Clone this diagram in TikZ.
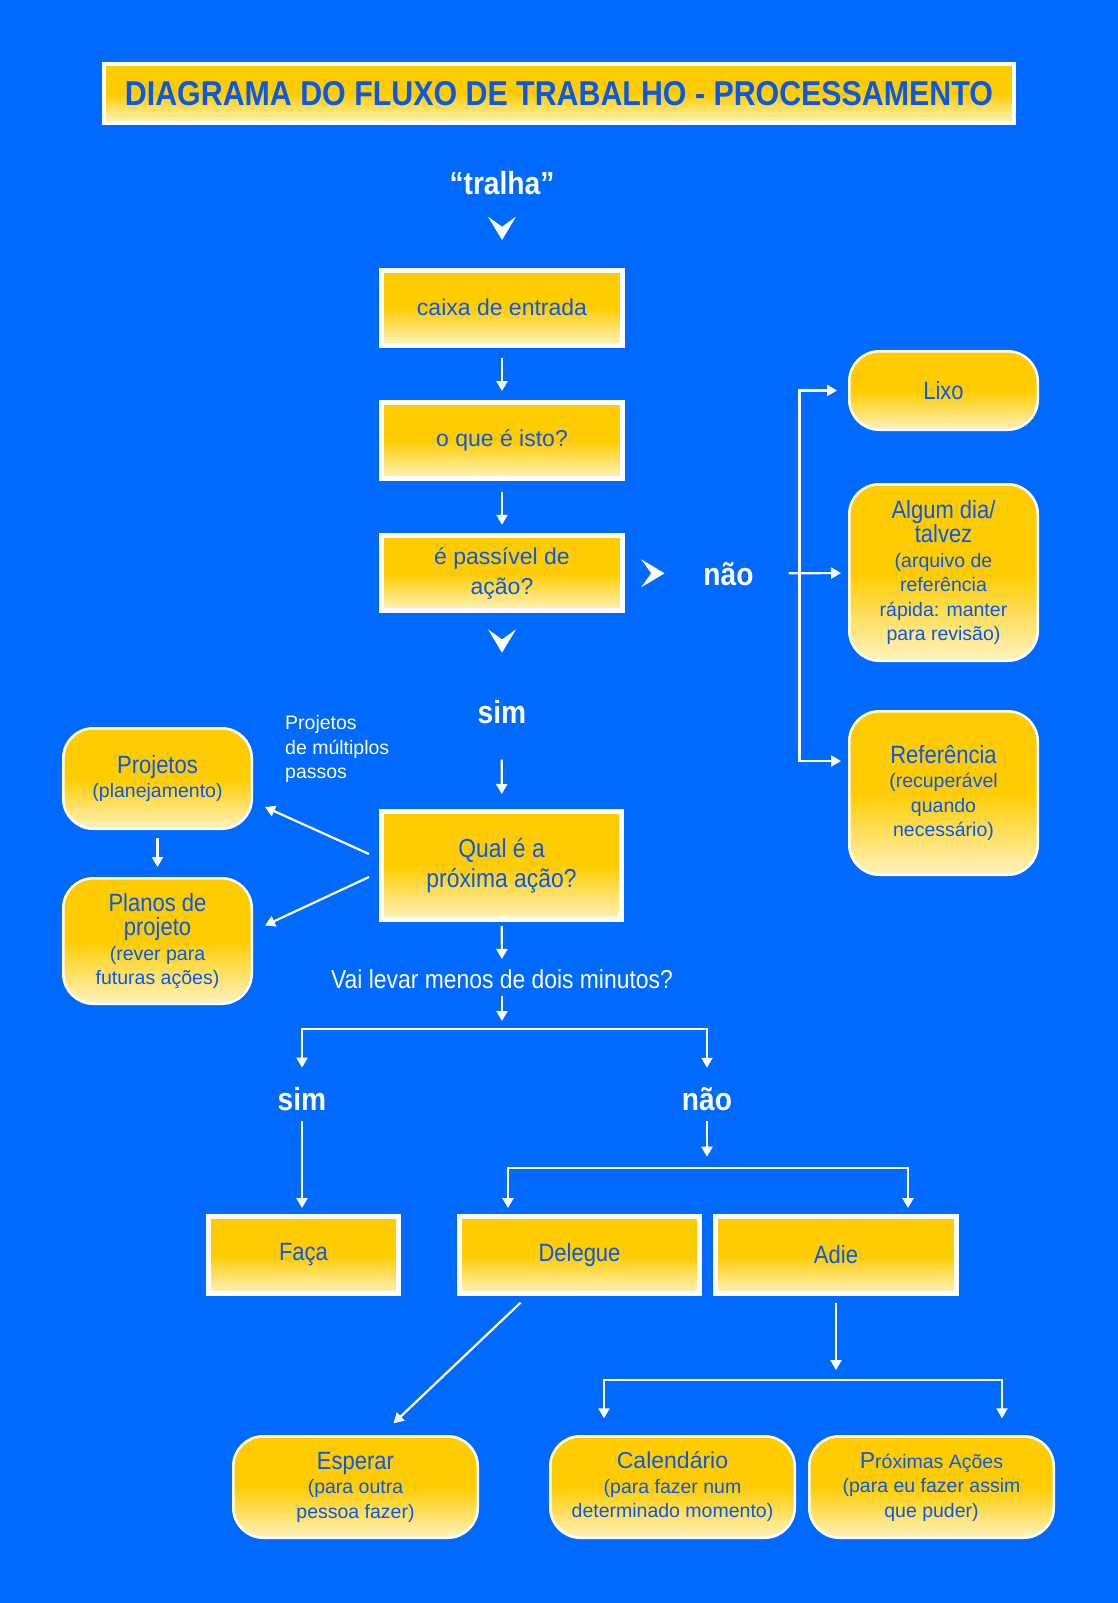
\documentclass[tikz,border=0pt]{standalone}
\usepackage{fontspec}
\usepackage{xcolor}
\usepackage{tikz}
\usetikzlibrary{arrows.meta}
\setmainfont{Liberation Sans}
\newfontfamily\condfont[FakeStretch=0.88]{Liberation Sans}

\definecolor{bgblue}{RGB}{0,106,255}
\definecolor{gold}{RGB}{255,204,0}
\definecolor{pale}{RGB}{255,243,192}
\definecolor{inkblue}{RGB}{10,88,230}

\newcommand\lblfont{\fontsize{23}{30}\selectfont}
\newcommand\subfont{\fontsize{19.5}{24.5}\selectfont}
\newcommand\lbl[1]{{\condfont\fontsize{25}{24.5}\selectfont #1}}
\newcommand\lblreg[1]{{\fontsize{23}{24.5}\selectfont #1}}

\begin{document}
\begin{tikzpicture}[
  x=1pt, y=-1pt,
  rectbox/.style={draw=white, line width=5pt, top color=gold, bottom color=pale,
    middle color=gold, text=inkblue, align=center, inner sep=0pt, font=\lblfont},
  roundbox/.style={draw=white, line width=2.5pt, rounded corners=30pt, top color=gold,
    bottom color=pale, middle color=gold, text=inkblue, align=center, inner sep=0pt,
    font=\subfont, minimum width=188.5pt},
  bigword/.style={text=white, inner sep=0pt, font=\condfont\bfseries\fontsize{32}{32}\selectfont},
  plainword/.style={text=white, inner sep=0pt},
  arr/.style={draw=white, line width=2.2pt, -{Triangle[width=11pt,length=10pt]}},
  arrboth/.style={draw=white, line width=2.2pt,
    {Triangle[width=11pt,length=10pt]}-{Triangle[width=11pt,length=10pt]}},
  chevron/.pic={\fill[white] (0,11.7) -- (-14,-11.6) -- (0,-1.6) -- (14,-11.6) -- cycle;},
]
% Coordinate system: 1 unit = 1 pixel of the 1118 x 1603 sheet, y grows downwards.
\def\xmid{502}
\fill[bgblue] (0,0) rectangle (1118,1603);
\useasboundingbox (0,0) rectangle (1118,1603);

% Title
\node[rectbox, line width=4pt, minimum width=910pt, minimum height=59pt,
  font=\condfont\bfseries\fontsize{34.5}{36}\selectfont] (title) at (559,93.5)
  {DIAGRAMA DO FLUXO DE TRABALHO - PROCESSAMENTO};

% ─── Main column ──────────────────────────────────────────────────────────
\node[bigword, anchor=base] (tralha) at (\xmid,194) {“tralha”};
\pic at (\xmid,228.3) {chevron};
\node[rectbox, minimum width=241.5pt, minimum height=75pt] (caixa) at (\xmid,307.5) {caixa de entrada};
\node[rectbox, minimum width=241.5pt, minimum height=75.5pt] (oque) at (\xmid,440.3) {o que é isto?};
\node[rectbox, minimum width=241.5pt, minimum height=75.5pt] (acao) at (\xmid,573) {é passível de\\ação?};
\pic[rotate=90] at (652.8,573.3) {chevron};
\node[bigword, anchor=base] (naoA) at (728.5,585) {não};
\pic at (\xmid,641) {chevron};
\node[bigword, anchor=base] (simA) at (\xmid,723) {sim};
\node[rectbox, minimum width=240pt, minimum height=108pt,
  font=\condfont\fontsize{26}{30}\selectfont] (qual) at (501.5,865.5) {Qual é a\\próxima ação?};
\node[plainword, anchor=base, font=\condfont\fontsize{26}{30}\selectfont] (vai) at (\xmid,988)
  {Vai levar menos de dois minutos?};
\coordinate (split1) at (\xmid,1029);

\draw[arr, shorten <=10pt, shorten >=9pt] (caixa) -- (oque);
\draw[arr, shorten <=11pt, shorten >=8pt] (oque) -- (acao);
\draw[arr, shorten <=36pt, shorten >=15pt] (simA) -- (qual);
\draw[arr, shorten <=4pt, shorten >=10pt] (qual) -- (vai);
\draw[arr, shorten <=8pt, shorten >=8pt] (vai) -- (split1);

% ─── Right: not actionable ────────────────────────────────────────────────
\node[roundbox, minimum height=78.5pt] (lixo) at (943.5,390.5) {\lbl{Lixo}};
\node[roundbox, minimum height=176.5pt] (algum) at (943.5,572.5)
  {\lbl{Algum dia/}\\\lbl{talvez}\\(arquivo de\\referência\\rápida: manter\\para revisão)};
\node[roundbox, minimum height=163.5pt] (referencia) at (943.5,793)
  {\lbl{Referência}\\(recuperável\\quando\\necessário)};
\coordinate (rbot) at (799.5,761);

\draw[arrboth, shorten <=11pt, shorten >=7pt] (lixo.west) -| (rbot) -- (referencia.west |- rbot);
\draw[arr, shorten <=35pt, shorten >=7pt] (naoA) -- (algum);

% ─── Left: projects ───────────────────────────────────────────────────────
\node[roundbox, minimum height=100.5pt] (projetos) at (157.5,778.5) {\lbl{Projetos}\\(planejamento)};
\node[roundbox, minimum height=125.5pt] (planos) at (157.5,941)
  {\lbl{Planos de}\\\lbl{projeto}\\(rever para\\futuras ações)};
\node[plainword, anchor=north west, align=left, font=\subfont] (multi) at (285,715.5)
  {Projetos\\de múltiplos\\passos};

\draw[arr, shorten <=8pt, shorten >=10pt] (projetos) -- (planos);
\draw[arr] ([shift={(-10,-11.5)}]qual.west) -- ([shift={(12,28.5)}]projetos.east);
\draw[arr] ([shift={(-10,11.5)}]qual.west) -- ([shift={(12,-15.5)}]planos.east);

% ─── Two minutes? ─────────────────────────────────────────────────────────
\node[bigword, anchor=base] (simB) at (302,1110) {sim};
\node[bigword, anchor=base] (naoB) at (707,1110) {não};
\coordinate (split2) at (707,1167.7);
\node[rectbox, minimum width=190pt, minimum height=77pt,
  font=\condfont\fontsize{25}{30}\selectfont] (faca) at (303.5,1255) {Faça};
\node[rectbox, minimum width=240pt, minimum height=77pt,
  font=\condfont\fontsize{25}{30}\selectfont] (delegue) at (579.5,1255) {Delegue};
\node[rectbox, minimum width=241pt, minimum height=77pt,
  font=\condfont\fontsize{25}{30}\selectfont] (adie) at (836,1255) {Adie};
\coordinate (split3) at (836,1380);

\draw[arrboth, shorten <=19pt, shorten >=19pt] (simB.north) |- (split1) -| (naoB.north);
\draw[arr, shorten <=10.7pt, shorten >=6pt] (simB) -- (simB |- faca.north);
\draw[arr, shorten <=10.7pt, shorten >=11pt] (naoB) -- (split2);
\draw[arrboth, shorten <=6pt, shorten >=6pt] (delegue.north -| 508,0) |- (split2) -| (adie.north -| 908,0);

% ─── Bottom row ───────────────────────────────────────────────────────────
\node[roundbox, minimum width=244.5pt, minimum height=101.5pt] (esperar) at (355.5,1487)
  {\lbl{Esperar}\\(para outra\\pessoa fazer)};
\node[roundbox, minimum width=244.5pt, minimum height=101.5pt] (calendario) at (672.5,1487)
  {\lblreg{Calendário}\\(para fazer num\\determinado momento)};
\node[roundbox, minimum width=244.5pt, minimum height=101.5pt] (proximas) at (931.5,1487)
  {\lblreg{P}róximas Ações\\(para eu fazer assim\\que puder)};

\draw[arr] ([shift={(-59,6.7)}]delegue.south) -- ([shift={(38,-11.7)}]esperar.north);
\draw[arr, shorten <=6.7pt, shorten >=10pt] (adie) -- (split3);
\draw[arrboth, shorten <=16.7pt, shorten >=16.7pt] (calendario.north -| 604,0) |- (split3) -| (proximas.north -| 1002,0);

\end{tikzpicture}
\end{document}
